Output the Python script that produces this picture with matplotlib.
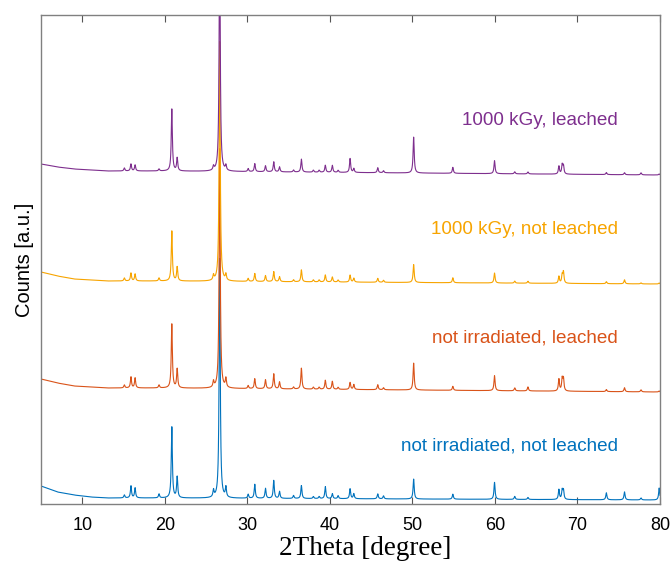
import numpy as np
import matplotlib
matplotlib.use("Agg")
import matplotlib.pyplot as plt

# peak positions (2Theta, degree)
peak_pos = [15.1, 15.9, 16.4, 19.3, 20.85, 21.5, 25.9, 26.65, 27.4, 30.1,
            30.9, 32.2, 33.2, 33.9, 35.6, 36.55, 38.0, 38.7, 39.45, 40.3,
            41.0, 42.45, 42.9, 45.8, 46.5, 50.15, 54.9, 59.95, 62.4, 64.0,
            67.75, 68.15, 68.3, 73.5, 75.7, 77.7, 79.9]

# peak heights above baseline (a.u.), one list per sample
h_blue = [3, 12, 10, 4, 71, 21, 7, 240, 10, 4,
          14, 10, 18, 7, 3, 13, 2, 2, 12, 5,
          3, 10, 5, 5, 3, 20, 5, 17, 3, 2,
          10, 9, 9, 7, 8, 2, 12]
h_red = [3, 11, 10, 3, 64, 19, 6, 240, 9, 3,
         10, 9, 15, 7, 2, 21, 2, 2, 9, 8,
         2, 7, 5, 5, 2, 27, 4, 15, 3, 4,
         12, 12, 12, 2, 4, 2, 1]
h_orange = [3, 8, 7, 3, 50, 14, 5, 240, 6, 3,
            8, 6, 10, 5, 2, 12, 2, 2, 7, 5,
            2, 7, 4, 4, 2, 18, 5, 10, 2, 2,
            7, 8, 11, 2, 4, 1, 1]
h_purple = [3, 7, 6, 2, 62, 13, 4, 240, 5, 3,
            8, 6, 10, 5, 2, 13, 2, 2, 7, 7,
            2, 14, 4, 5, 2, 36, 6, 13, 2, 2,
            8, 9, 8, 2, 2, 2, 1]

# background: baseline level at a few angles (a.u.)
bg_x = [5, 7, 9, 11, 13, 20, 80]
bg_blue = [18, 12, 9, 7, 6, 6, 4]
bg_red = [125, 121, 118, 117, 116, 116, 112]
bg_orange = [232, 228, 225, 224, 223, 223, 220]
bg_purple = [340, 337, 335, 334, 333, 333, 329]

labels = ["not irradiated, not leached", "not irradiated, leached",
          "1000 kGy, not leached", "1000 kGy, leached"]
colors = ["#0072BD", "#D95319", "#F7A400", "#7E2F8E"]
label_y = [58, 166, 275, 384]

heights = [h_blue, h_red, h_orange, h_purple]
bgs = [bg_blue, bg_red, bg_orange, bg_purple]

tt = np.linspace(5, 80, 6000)


def pattern(h, bg, width=0.08):
    y = np.interp(tt, bg_x, bg)
    for p, a in zip(peak_pos, h):
        y += a / (1.0 + ((tt - p) / width) ** 2)
    return y


fig = plt.figure(figsize=(6.71, 5.62), dpi=100)
ax = fig.add_axes([0.0611, 0.1032, 0.9225, 0.8701])

for h, bg, c in zip(heights, bgs, colors):
    ax.plot(tt, pattern(h, bg), color=c, lw=0.8)

for lab, c, ly in zip(labels, colors, label_y):
    ax.text(74.9, ly, lab, color=c, fontsize=13.6, ha="right", va="center",
            family="Liberation Sans")

ax.set_xlim(5, 80)
ax.set_ylim(0, 489)
ax.set_xticks(range(10, 81, 10))
ax.set_yticks([])
ax.tick_params(axis="x", direction="in", length=5, top=True,
               labelsize=13, color="#555555", pad=9)
for lab in ax.get_xticklabels():
    lab.set_family("Liberation Sans")
for s in ax.spines.values():
    s.set_color("#808080")
    s.set_linewidth(1.0)

# label sits at the bottom edge, as in the reference, but kept inside
ax.set_xlabel("2Theta [degree]", family="Liberation Serif", fontsize=19.5,
              va="baseline")
ax.xaxis.set_label_coords(0.523, -0.1043)
ax.set_ylabel("Counts [a.u.]", family="Liberation Sans", fontsize=14.5,
              labelpad=5)

fig.savefig("out.png", dpi=100)
